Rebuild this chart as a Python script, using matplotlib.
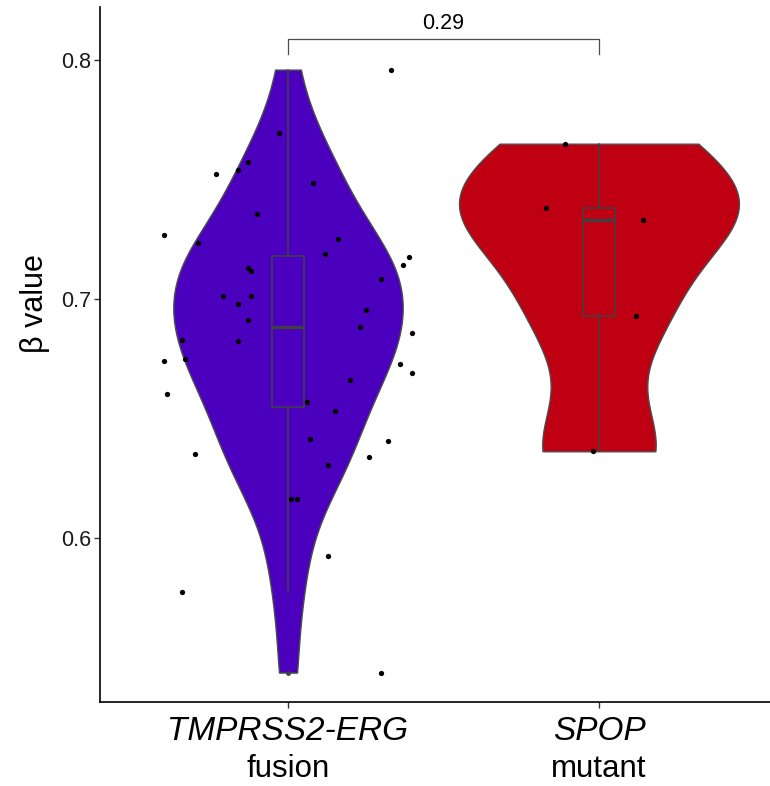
import numpy as np
import matplotlib.pyplot as plt
import matplotlib.transforms as mtransforms

plt.rcParams['font.family'] = ['Liberation Sans', 'DejaVu Sans']

# beta values
fusion_vals = [0.796, 0.7695, 0.7575, 0.7541, 0.7522, 0.7484, 0.7357, 0.7269,
               0.7236, 0.7251, 0.7190, 0.7174, 0.7141, 0.7128, 0.7116, 0.7082,
               0.7013, 0.7011, 0.6979, 0.6955, 0.6911, 0.6882, 0.6830, 0.6859,
               0.6826, 0.6741, 0.6749, 0.6728, 0.6690, 0.6660, 0.6601, 0.6570,
               0.6530, 0.6414, 0.6405, 0.6353, 0.6340, 0.6304, 0.6164, 0.6165,
               0.5925, 0.5773, 0.5437]
# horizontal jitter of each dot (in category units)
fusion_jit = [0.33, -0.03, -0.13, -0.16, -0.23, 0.08, -0.10, -0.40,
              -0.29, 0.16, 0.12, 0.39, 0.37, -0.13, -0.12, 0.30,
              -0.21, -0.12, -0.16, 0.25, -0.13, 0.23, -0.34, 0.40,
              -0.16, -0.40, -0.33, 0.36, 0.40, 0.20, -0.39, 0.06,
              0.15, 0.07, 0.32, -0.30, 0.26, 0.13, 0.01, 0.03,
              0.13, -0.34, 0.30]
spop_vals = [0.7650, 0.7382, 0.7329, 0.6929, 0.6363]
spop_jit = [-0.11, -0.17, 0.14, 0.12, -0.02]

groups = [fusion_vals, spop_vals]
jitters = [fusion_jit, spop_jit]
fills = ['#4B00BE', '#BE0012']
label_top = ['TMPRSS2-ERG', 'SPOP']
label_bottom = ['fusion', 'mutant']
p_label = '0.29'


def kde_trimmed(vals, n=512):
    x = np.asarray(vals)
    sd = np.std(x, ddof=1)
    iqr = np.subtract(*np.percentile(x, [75, 25]))
    bw = 0.9 * min(sd, iqr / 1.34) * len(x) ** -0.2
    grid = np.linspace(x.min(), x.max(), n)
    dens = np.exp(-0.5 * ((grid[:, None] - x[None, :]) / bw) ** 2).sum(axis=1)
    dens /= len(x) * bw * np.sqrt(2 * np.pi)
    return grid, dens


fig = plt.figure(figsize=(7.7, 7.86), dpi=100)
ax = fig.add_axes([0.1299, 0.1075, 0.8701, 0.883])

kdes = [kde_trimmed(g) for g in groups]
dmax = max(d.max() for _, d in kdes)

for i, (vals, jit, col) in enumerate(zip(groups, jitters, fills)):
    pos = i + 1
    grid, dens = kdes[i]
    half = dens / dmax * 0.45
    ax.fill_betweenx(grid, pos - half, pos + half, facecolor=col,
                     edgecolor='#4d4d4d', linewidth=1.0, zorder=1)
    ax.boxplot([vals], positions=[pos], widths=0.1, whis=1.5,
               patch_artist=True, manage_ticks=False,
               boxprops=dict(facecolor='none', edgecolor='#404040', linewidth=1.1),
               whiskerprops=dict(color='#404040', linewidth=1.1),
               capprops=dict(linewidth=0),
               medianprops=dict(color='#404040', linewidth=2.4),
               flierprops=dict(marker='o', markersize=3.5, markerfacecolor='#404040',
                               markeredgecolor='none'),
               zorder=2)
    ax.plot(pos + np.asarray(jit), vals, 'o', color='black', markersize=3.8,
            markeredgewidth=0, zorder=3)

# significance bracket
yb, yt = 0.8025, 0.8088
ax.plot([1, 1, 2, 2], [yb, yt, yt, yb], color='#4d4d4d', linewidth=0.9, clip_on=False)
ax.text(1.5, yt + 0.0022, p_label, ha='center', va='bottom', fontsize=15.5)

ax.set_xlim(0.3955, 2.55)
ax.set_ylim(0.5316, 0.822)
ax.set_yticks([0.6, 0.7, 0.8])
ax.set_yticklabels(['0.6', '0.7', '0.8'])
ax.set_xticks([1, 2])
ax.set_xticklabels(['', ''])
ax.tick_params(axis='both', length=4, color='#333333', width=1, labelsize=15.5,
               labelcolor='#1a1a1a', pad=2.5)
ax.set_ylabel('β value', fontsize=22)
ax.yaxis.set_label_coords(-0.074, 0.574)

trans = mtransforms.blended_transform_factory(ax.transData, ax.transAxes)
for i in range(2):
    ax.text(i + 1, -0.021, label_top[i], transform=trans, ha='center', va='top',
            fontsize=24, style='italic')
    ax.text(i + 1, -0.075, label_bottom[i], transform=trans, ha='center', va='top',
            fontsize=22.5)

for s in ['top', 'right']:
    ax.spines[s].set_visible(False)
for s in ['left', 'bottom']:
    ax.spines[s].set_linewidth(1.2)
    ax.spines[s].set_color('black')

fig.savefig('out.png', dpi=100)
